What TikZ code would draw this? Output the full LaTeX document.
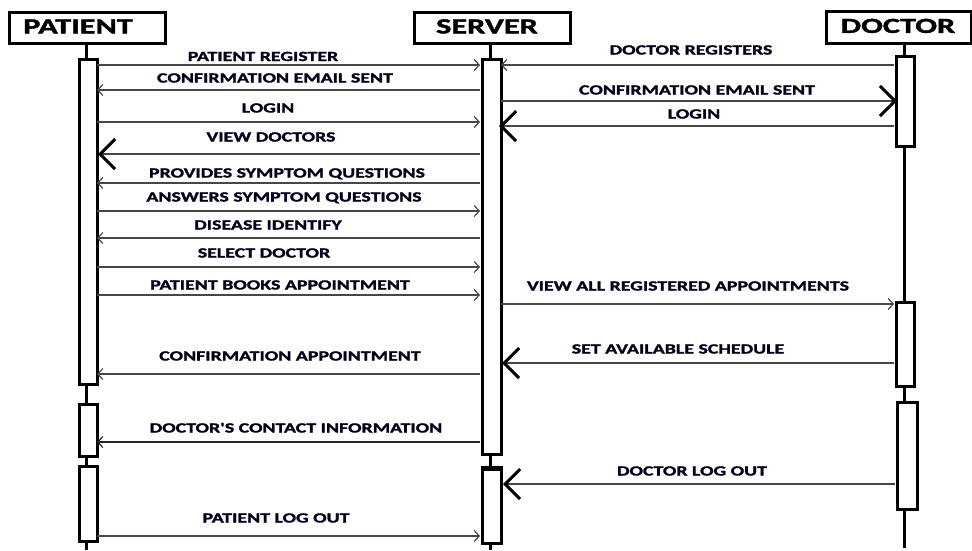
\documentclass[tikz,border=0pt]{standalone}
\usepackage{fontspec}
\newfontfamily\labfont[FakeStretch=1.42,BoldFeatures={FakeBold=1.6}]{Carlito}
\newfontfamily\hdrfont[FakeStretch=1.5,BoldFeatures={FakeBold=1.8}]{Carlito}
\usetikzlibrary{arrows.meta}
\begin{document}
\begin{tikzpicture}[x=1pt,y=-1pt,
 lab/.style={font=\labfont\bfseries\fontsize{14}{14}\selectfont, inner sep=0pt, text height=9pt, text depth=0pt, text=black!90!blue},
 hdr/.style={draw, line width=3pt, inner sep=0pt, anchor=north west},
 hdrtxt/.style={font=\hdrfont\bfseries\fontsize{21.5}{21.5}\selectfont, inner sep=0pt, text height=13.8pt, text depth=0pt},
 life/.style={line width=3pt},
 act/.style={draw, line width=3pt, fill=white, inner sep=0pt, anchor=north west},
 msg/.style={line width=1.2pt, draw=black!72, -{Straight Barb[length=5pt,width=11pt,line width=1.2pt]}},
 thickmsg/.style={line width=1.8pt, draw=black!85, -{Straight Barb[length=5pt,width=11pt,line width=1.2pt]}},
 bigmsg/.style={line width=1.2pt, draw=black!72, -{Straight Barb[length=15pt,width=30pt,line width=3pt,color=black]}},
]
\useasboundingbox (0,0) rectangle (972,550);
\fill[white] (0,0) rectangle (972,550);

% header boxes
\node[hdr, minimum width=156pt, minimum height=31pt] (pbox) at (8,11) {};
\node[hdr, minimum width=156pt, minimum height=31pt] (sbox) at (413,11) {};
\node[hdr, minimum width=145pt, minimum height=32pt] (dbox) at (825,10) {};
\node[hdrtxt] (ptxt) at (78,26.5) {PATIENT};
\node[hdrtxt] (stxt) at (487,26.5) {SERVER};
\node[hdrtxt] (dtxt) at (898,26) {DOCTOR};

% lifelines
\coordinate (ptop) at (86,42); \coordinate (pend) at (86,550);
\coordinate (stop) at (490,42); \coordinate (send) at (490,550);
\coordinate (dtop) at (904,42); \coordinate (dend) at (904,548);
\draw[life] (ptop) -- (pend);
\draw[life] (stop) -- (send);
\draw[life] (dtop) -- (dend);

% activation boxes
\node[act, minimum width=18pt, minimum height=325pt] (pa1) at (78,58) {};
\node[act, minimum width=18pt, minimum height=52pt] (pa2) at (78,403) {};
\node[act, minimum width=18pt, minimum height=75pt] (pa3) at (78,465) {};
\node[act, minimum width=19pt, minimum height=395pt] (sa1) at (481,58) {};
\node[act, minimum width=19pt, minimum height=74pt] (sa2) at (481,468) {};
\draw[line width=5pt] (sa2.north west) -- (sa2.north east);
\node[act, minimum width=18pt, minimum height=90pt] (da1) at (895,55) {};
\node[act, minimum width=18pt, minimum height=84pt] (da2) at (895,301) {};
\node[act, minimum width=20pt, minimum height=107pt] (da3) at (896,401) {};

% messages
\foreach \n/\xa/\xb/\y/\st in {
  1/97/480/65/msg, 2/480/97/90/msg, 3/97/480/122/msg, 4/480/98/154/bigmsg,
  5/480/97/183/msg, 6/97/480/211/msg, 7/480/97/238/msg, 8/97/480/267/msg,
  9/97/480/295/msg, 10/501/894/304/msg, 11/894/502/363/bigmsg,
  12/480/97/374/msg, 13/480/97/442/thickmsg, 14/895/503/484/bigmsg,
  15/97/480/536/msg, 16/894/501/65/msg, 17/501/897/101/bigmsg,
  18/894/499/126/bigmsg} {
  \coordinate (m\n s) at (\xa,\y);
  \coordinate (m\n e) at (\xb,\y);
  \draw[\st] (m\n s) -- (m\n e);
}

% labels
\node[lab] (l1) at (263,56.5) {PATIENT REGISTER};
\node[lab] (l2) at (275,78) {CONFIRMATION EMAIL SENT};
\node[lab] (l3) at (268,108) {LOGIN};
\node[lab] (l4) at (271,137) {VIEW DOCTORS};
\node[lab] (l5) at (287,173) {PROVIDES SYMPTOM QUESTIONS};
\node[lab] (l6) at (284,197) {ANSWERS SYMPTOM QUESTIONS};
\node[lab] (l7) at (268,225) {DISEASE IDENTIFY};
\node[lab] (l8) at (264,253) {SELECT DOCTOR};
\node[lab] (l9) at (280,285) {PATIENT BOOKS APPOINTMENT};
\node[lab] (l10) at (688,286) {VIEW ALL REGISTERED APPOINTMENTS};
\node[lab] (l11) at (678,349) {SET AVAILABLE SCHEDULE};
\node[lab] (l12) at (290,356) {CONFIRMATION APPOINTMENT};
\node[lab] (l13) at (296,428) {DOCTOR'S CONTACT INFORMATION};
\node[lab] (l14) at (692,471) {DOCTOR LOG OUT};
\node[lab] (l15) at (276,518) {PATIENT LOG OUT};
\node[lab] (l16) at (691,50) {DOCTOR REGISTERS};
\node[lab] (l17) at (697,90) {CONFIRMATION EMAIL SENT};
\node[lab] (l18) at (694,114) {LOGIN};
\end{tikzpicture}
\end{document}
